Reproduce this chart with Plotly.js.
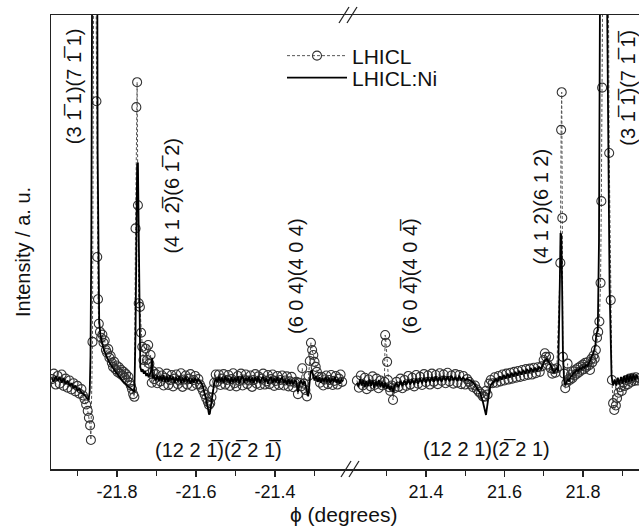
<!DOCTYPE html>
<html>
<head>
<meta charset="utf-8">
<script src="https://cdn.plot.ly/plotly-3.0.1.min.js"></script>
<style>html,body{margin:0;padding:0;background:#fff;}#chart{width:639px;height:528px;}</style>
</head>
<body>
<div id="chart"></div>
<script>
// ---------- DATA ----------
// LHICL (circles), left segment (negative phi)
var lhiclLeftX = [
-21.965,-21.960,-21.955,-21.950,-21.945,-21.940,-21.935,-21.930,-21.925,-21.920,
-21.915,-21.910,-21.905,-21.900,-21.895,-21.890,-21.886,-21.882,-21.878,-21.874,
-21.871,-21.868,-21.866,-21.862,-21.857,-21.852,-21.850,-21.848,-21.846,-21.843,
-21.840,-21.837,-21.834,-21.831,-21.828,-21.825,-21.822,-21.819,-21.816,-21.813,
-21.810,-21.807,-21.804,-21.801,-21.798,-21.795,-21.792,-21.789,-21.786,-21.783,
-21.780,-21.777,-21.774,-21.771,-21.768,-21.765,-21.762,-21.759,-21.756,-21.753,
-21.751,-21.749,-21.747,-21.745,-21.742,-21.739,-21.736,-21.733,-21.730,-21.727,
-21.724,-21.721,-21.718,-21.715,-21.712,-21.709,-21.706,-21.702,-21.698,-21.694,
-21.690,-21.686,-21.682,-21.678,-21.674,-21.670,-21.666,-21.662,-21.658,-21.654,
-21.650,-21.646,-21.642,-21.638,-21.634,-21.630,-21.626,-21.622,-21.618,-21.614,
-21.610,-21.606,-21.602,-21.598,-21.594,-21.590,-21.586,-21.582,-21.578,-21.574,
-21.570,-21.567,-21.564,-21.561,-21.558,-21.554,-21.550,-21.546,-21.542,-21.538,
-21.534,-21.530,-21.526,-21.522,-21.518,-21.514,-21.510,-21.506,-21.502,-21.498,
-21.494,-21.490,-21.486,-21.482,-21.478,-21.474,-21.470,-21.466,-21.462,-21.458,
-21.454,-21.450,-21.446,-21.442,-21.438,-21.434,-21.430,-21.426,-21.422,-21.418,
-21.414,-21.410,-21.406,-21.402,-21.398,-21.394,-21.390,-21.386,-21.382,-21.378,
-21.374,-21.370,-21.366,-21.362,-21.358,-21.354,-21.350,-21.346,-21.342,-21.338,
-21.334,-21.331,-21.327,-21.323,-21.319,-21.315,-21.312,-21.309,-21.306,-21.303,
-21.300,-21.297,-21.294,-21.290,-21.286,-21.282,-21.278,-21.274,-21.270,-21.266,
-21.262,-21.258,-21.254,-21.250,-21.246,-21.242,-21.238,-21.234,-21.230];
var lhiclLeftY = [
19.8,21.0,18.6,20.5,18.8,20.8,18.3,19.9,17.9,19.5,
17.5,18.9,17.1,18.3,16.6,17.6,16.2,15.4,14.2,12.8,
11.3,9.6,6.4,28.0,160,81.0,46.7,37.4,32.0,30.2,
28.9,29.6,27.8,28.3,26.2,25.6,26.4,24.5,24.9,23.4,
22.5,23.6,22.0,22.8,21.3,22.4,21.0,21.8,20.6,21.4,
20.1,20.9,19.5,20.3,19.0,18.4,17.6,16.5,15.9,53.0,
79.7,85.2,58.1,36.5,35.7,30.0,26.9,24.0,22.5,26.5,
24.0,27.3,23.2,25.1,19.0,21.5,19.8,20.9,18.9,21.3,
19.3,20.6,18.4,20.1,21.0,18.5,19.6,20.7,18.2,19.9,
20.8,18.7,19.5,21.1,18.1,19.7,20.6,18.6,19.9,20.9,
18.3,19.6,20.5,18.7,19.8,18.6,17.9,17.2,16.4,15.6,
14.8,14.1,14.5,15.8,17.5,19.0,20.8,19.2,20.8,18.5,
19.9,20.9,18.6,19.6,20.7,18.3,19.8,21.1,18.9,18.2,
20.5,19.4,21.0,18.4,19.7,20.8,18.7,19.5,20.6,18.1,
19.6,20.9,18.8,20.4,18.5,19.9,21.0,18.6,19.3,20.7,
18.7,19.8,20.8,18.3,19.4,20.5,18.5,19.6,20.6,18.4,
19.5,20.4,18.2,19.3,20.3,18.0,19.0,19.2,16.5,19.0,
18.2,22.2,18.8,17.4,16.0,20.5,23.8,27.8,26.2,25.1,
23.6,22.5,21.4,20.3,19.0,20.3,18.4,19.7,20.6,18.7,
19.6,20.7,18.5,19.4,20.5,18.6,19.9,20.8,19.2];

// LHICL:Ni (solid line), left segment
var niLeftX = [
-21.965,-21.960,-21.955,-21.950,-21.945,-21.940,-21.935,-21.930,-21.925,-21.920,
-21.915,-21.910,-21.905,-21.900,-21.895,-21.890,-21.885,-21.880,-21.876,-21.872,
-21.869,-21.867,-21.865,-21.863,-21.861,-21.856,-21.851,-21.849,-21.847,-21.845,
-21.842,-21.838,-21.834,-21.830,-21.825,-21.820,-21.815,-21.810,-21.805,-21.800,
-21.795,-21.790,-21.785,-21.780,-21.775,-21.770,-21.765,-21.760,-21.756,-21.753,
-21.751,-21.749,-21.747,-21.745,-21.743,-21.741,-21.738,-21.735,-21.732,-21.729,
-21.726,-21.723,-21.720,-21.717,-21.714,-21.711,-21.709,-21.706,-21.702,-21.698,
-21.694,-21.690,-21.686,-21.682,-21.678,-21.674,-21.670,-21.666,-21.662,-21.658,
-21.654,-21.650,-21.646,-21.642,-21.638,-21.634,-21.630,-21.626,-21.622,-21.618,
-21.614,-21.610,-21.606,-21.602,-21.598,-21.594,-21.590,-21.586,-21.582,-21.578,
-21.574,-21.570,-21.567,-21.565,-21.563,-21.560,-21.557,-21.554,-21.550,-21.546,
-21.542,-21.538,-21.534,-21.530,-21.526,-21.522,-21.518,-21.514,-21.510,-21.506,
-21.502,-21.498,-21.494,-21.490,-21.486,-21.482,-21.478,-21.474,-21.470,-21.466,
-21.462,-21.458,-21.454,-21.450,-21.446,-21.442,-21.438,-21.434,-21.430,-21.426,
-21.422,-21.418,-21.414,-21.410,-21.406,-21.402,-21.398,-21.394,-21.390,-21.386,
-21.382,-21.378,-21.374,-21.370,-21.366,-21.362,-21.358,-21.354,-21.350,-21.346,
-21.342,-21.338,-21.334,-21.330,-21.325,-21.320,-21.316,-21.313,-21.310,-21.307,
-21.304,-21.300,-21.296,-21.292,-21.288,-21.284,-21.280,-21.276,-21.272,-21.268,
-21.264,-21.260,-21.256,-21.252,-21.248,-21.244,-21.240,-21.236,-21.232,-21.228];
var niLeftY = [
20.0,19.2,20.5,19.4,20.3,19.0,20.0,18.7,19.5,18.3,
18.9,17.8,18.4,17.3,17.7,16.8,16.6,16.0,15.6,15.2,
17.0,25,50,90,160,200,160,70,40,32.6,
29.5,27.7,26.5,25.6,24.4,23.6,22.9,22.1,21.6,21.0,
20.3,19.9,19.3,18.9,18.5,18.0,17.6,17.2,17.0,30,
55,67,67.5,50,30,22.5,21.4,22.0,21.0,21.6,
20.5,21.1,20.2,20.8,21.5,24.5,20.0,20.6,19.5,20.6,
19.3,20.5,19.4,20.7,19.2,20.4,19.1,20.6,19.5,20.3,
19.0,20.2,19.3,20.5,18.9,20.1,19.2,20.4,19.1,20.0,
18.8,19.9,19.0,20.1,19.1,19.8,19.4,18.9,18.0,16.8,
15.2,13.5,12.0,12.2,13.4,15.5,17.4,18.8,19.9,19.1,
20.3,19.2,20.1,19.0,20.4,19.3,20.0,18.9,20.2,19.1,
20.1,19.2,20.4,18.8,19.9,20.5,19.0,20.0,19.3,20.3,
19.1,20.1,18.9,20.2,19.2,20.4,19.0,19.9,20.3,19.1,
20.0,18.8,19.8,20.3,19.0,19.9,19.2,20.2,18.9,19.8,
20.1,19.0,19.7,18.6,19.8,18.8,19.6,18.7,19.5,19.3,
16.9,18.8,19.5,18.6,19.4,17.6,16.0,18.5,21.3,21.8,
20.6,19.5,20.5,19.2,20.2,19.0,20.0,19.3,20.3,19.1,
20.1,18.9,19.9,19.2,20.2,19.0,19.8,18.8,19.7,19.3];

// LHICL (circles), right segment (positive phi)
var lhiclRightX = [
21.224,21.229,21.234,21.239,21.244,21.249,21.254,21.259,21.264,21.269,
21.274,21.279,21.284,21.289,21.294,21.296,21.298,21.301,21.303,21.306,
21.309,21.313,21.316,21.320,21.325,21.330,21.335,21.340,21.345,21.350,
21.355,21.360,21.365,21.370,21.375,21.380,21.385,21.390,21.395,21.400,
21.405,21.410,21.415,21.420,21.425,21.430,21.435,21.440,21.445,21.450,
21.455,21.460,21.465,21.470,21.475,21.480,21.485,21.490,21.495,21.500,
21.505,21.510,21.515,21.520,21.525,21.530,21.535,21.540,21.545,21.549,
21.553,21.557,21.561,21.565,21.570,21.575,21.580,21.585,21.590,21.595,
21.600,21.605,21.610,21.615,21.620,21.625,21.630,21.635,21.640,21.645,
21.650,21.655,21.660,21.665,21.670,21.675,21.680,21.685,21.690,21.695,
21.700,21.703,21.706,21.710,21.714,21.718,21.722,21.726,21.730,21.7335,
21.7425,21.7445,21.746,21.7475,21.749,21.752,21.755,21.758,21.761,21.764,
21.767,21.770,21.773,21.776,21.779,21.782,21.785,21.788,21.791,21.794,
21.797,21.800,21.803,21.806,21.809,21.812,21.815,21.818,21.821,21.824,
21.827,21.830,21.833,21.836,21.839,21.842,21.845,21.847,21.849,21.853,
21.857,21.862,21.867,21.871,21.874,21.877,21.880,21.884,21.887,21.891,
21.895,21.899,21.903,21.907,21.911,21.915,21.919,21.923,21.927,21.931,
21.935,21.939,21.943];
var lhiclRightY = [
19.5,17.9,20.6,18.4,20.1,17.6,19.7,18.2,20.4,18.5,
19.9,17.8,19.5,18.4,19.2,29.5,27.8,23.6,19.6,18.0,
17.2,18.4,15.2,17.8,19.2,18.1,19.9,17.8,19.6,18.3,
20.5,18.6,20.1,18.2,20.7,18.8,20.3,18.5,20.9,19.1,
20.6,18.6,21.0,19.2,20.7,18.7,21.1,19.4,20.8,18.9,
21.2,19.3,20.6,18.8,20.9,19.0,20.7,18.7,20.5,18.6,
19.8,19.2,18.6,18.0,18.4,17.5,17.0,16.6,16.0,15.9,
17.2,16.4,18.8,19.6,18.9,20.2,19.0,20.5,19.3,20.8,
19.5,21.0,19.7,21.2,19.9,21.4,20.1,21.6,20.3,21.8,
20.5,22.0,20.7,22.1,20.8,22.3,21.1,22.4,21.4,22.6,
24.0,25.5,24.7,23.0,24.7,22.2,21.0,22.0,21.2,22.2,
45.4,74.7,83.0,55.3,24.7,21.0,17.8,19.0,23.2,19.8,
19.6,20.8,20.0,21.5,20.6,21.9,21.0,22.3,21.4,22.6,
21.8,23.0,22.0,23.4,22.5,23.5,22.8,21.8,24.2,23.5,
25.0,24.3,26.2,28.9,30.2,32.5,41.0,59.0,84.0,160,
200,160,69.6,37.2,19.6,14.5,13.0,14.0,15.6,16.8,
18.0,17.2,19.0,18.3,19.6,18.7,19.9,19.2,20.1,19.4,
20.2,19.5,20.0];

// LHICL:Ni (solid line), right segment
var niRightX = [
21.224,21.228,21.232,21.236,21.240,21.244,21.248,21.252,21.256,21.260,
21.264,21.268,21.272,21.276,21.280,21.284,21.288,21.292,21.296,21.300,
21.304,21.308,21.312,21.316,21.320,21.325,21.330,21.335,21.340,21.345,
21.350,21.355,21.360,21.365,21.370,21.375,21.380,21.385,21.390,21.395,
21.400,21.405,21.410,21.415,21.420,21.425,21.430,21.435,21.440,21.445,
21.450,21.455,21.460,21.465,21.470,21.475,21.480,21.485,21.490,21.495,
21.500,21.505,21.510,21.515,21.520,21.525,21.531,21.538,21.545,21.550,
21.553,21.556,21.558,21.562,21.566,21.570,21.573,21.578,21.583,21.588,
21.593,21.598,21.603,21.608,21.613,21.618,21.623,21.628,21.633,21.638,
21.643,21.648,21.653,21.658,21.663,21.668,21.673,21.678,21.683,21.688,
21.693,21.698,21.703,21.708,21.713,21.718,21.722,21.726,21.730,21.734,
21.737,21.739,21.741,21.743,21.745,21.747,21.749,21.752,21.755,21.758,
21.761,21.765,21.768,21.772,21.776,21.780,21.784,21.788,21.792,21.796,
21.800,21.804,21.808,21.812,21.815,21.818,21.821,21.824,21.827,21.829,
21.832,21.834,21.836,21.838,21.841,21.843,21.845,21.849,21.852,21.858,
21.863,21.868,21.873,21.877,21.881,21.885,21.889,21.893,21.897,21.901,
21.905,21.909,21.913,21.917,21.921,21.925,21.929,21.933,21.937,21.941];
var niRightY = [
19.0,18.1,19.8,18.4,19.6,18.0,19.4,18.2,19.7,18.3,
19.5,17.9,19.3,18.2,19.6,18.0,19.2,17.8,19.0,17.7,
18.6,17.4,18.2,17.0,18.3,18.9,18.0,19.4,18.3,19.5,
18.5,19.7,18.6,19.8,18.7,19.9,18.8,20.0,18.9,20.1,
19.0,20.2,19.1,20.3,19.2,20.4,19.3,20.2,19.2,20.5,
19.4,20.4,19.3,20.6,19.5,20.3,19.4,20.5,19.6,20.2,
19.5,19.9,19.6,19.4,19.0,18.5,17.6,16.8,14.8,12.5,
11.9,13.8,15.2,17.5,18.6,19.0,19.2,19.8,19.3,20.4,
19.7,20.7,19.9,21.0,20.1,21.2,20.4,21.4,20.6,21.6,
20.8,21.8,21.0,22.0,21.2,22.2,21.4,22.3,21.5,22.5,
22.0,22.9,24.0,24.3,23.6,22.8,22.0,21.2,21.8,22.2,
21.5,28,40,52.0,51.5,40,26,19.5,18.4,19.0,
19.8,19.3,20.3,20.5,21.1,21.3,21.8,21.6,22.2,22.0,
22.5,22.3,22.9,22.7,23.3,23.8,24.2,25.0,25.6,26.3,
27.5,29.5,30.0,30.8,50,80,160,220,200,140,
80,40,20.5,18.4,19.7,18.4,20.1,18.6,20.3,18.8,
20.5,19.0,20.7,19.2,20.8,19.4,20.9,19.6,20.7,19.9];

// Tick values / labels
var leftTickVals = [-21.8, -21.6, -21.4];
var leftTickText = ["-21.8", "-21.6", "-21.4"];
var leftMinorVals = [-21.9, -21.7, -21.5, -21.3];
var rightTickVals = [21.4, 21.6, 21.8];
var rightTickText = ["21.4", "21.6", "21.8"];
var rightMinorVals = [21.3, 21.5, 21.7, 21.9];

// Reflection labels
var OL = "\u0305";
var peakLabels = [
  {text: "(3 1" + OL + " 1)(7 1" + OL + " 1)", axis: "x", x: -21.909, y: 84.3, angle: -90},
  {text: "(4 1 2" + OL + ")(6 1" + OL + " 2)", axis: "x", x: -21.661, y: 60.2, angle: -90},
  {text: "(6 0 4)(4 0 4)", axis: "x", x: -21.347, y: 42.5, angle: -90},
  {text: "(12 2 1" + OL + ")(2" + OL + " 2 1" + OL + ")", axis: "x", x: -21.544, y: 4.2, angle: 0},
  {text: "(6 0 4" + OL + ")(4 0 4" + OL + ")", axis: "x2", x: 21.359, y: 42.5, angle: -90},
  {text: "(4 1 2)(6 1 2)", axis: "x2", x: 21.693, y: 57.8, angle: -90},
  {text: "(3 1" + OL + " 1" + OL + ")(7 1" + OL + " 1" + OL + ")", axis: "x2", x: 21.915, y: 84.0, angle: -90},
  {text: "(12 2 1)(2" + OL + " 2 1)", axis: "x2", x: 21.555, y: 4.4, angle: 0}
];

// ---------- STYLE / LAYOUT ----------
var FONT = "'Liberation Sans', Arial, Helvetica, sans-serif";
var CIRC_COLOR = "#333333";
var DASH_COLOR = "#555555";

var circleStyle = {
  mode: "lines+markers",
  line: {color: DASH_COLOR, width: 1, dash: "3px,2px"},
  marker: {symbol: "circle-open", size: 9, color: CIRC_COLOR, line: {width: 1.1, color: CIRC_COLOR}}
};
var niStyle = {mode: "lines", line: {color: "#000000", width: 1.8}};

var traces = [
  Object.assign({type: "scatter", name: "LHICL", x: lhiclLeftX, y: lhiclLeftY, xaxis: "x", yaxis: "y", legend: "legend"}, circleStyle),
  Object.assign({type: "scatter", name: "LHICL", x: lhiclRightX, y: lhiclRightY, xaxis: "x2", yaxis: "y", showlegend: false}, circleStyle),
  Object.assign({type: "scatter", name: "LHICL:Ni", x: niLeftX, y: niLeftY, xaxis: "x", yaxis: "y", legend: "legend2"}, niStyle),
  Object.assign({type: "scatter", name: "LHICL:Ni", x: niRightX, y: niRightY, xaxis: "x2", yaxis: "y", showlegend: false}, niStyle)
];

// pixel helpers for decorations only
var PL = 51, PW = 588, PT = 15, PH = 454;
function px(xp) { return (xp - PL) / PW; }
function py(yp) { return (PT + PH - yp) / PH; }
var SPLIT = px(349);

var annotations = peakLabels.map(function (p) {
  return {text: p.text, xref: p.axis, yref: "y", x: p.x, y: p.y, textangle: p.angle,
          showarrow: false, xanchor: "center", yanchor: "middle",
          font: {family: FONT, size: 20, color: "#111"}};
});
annotations.push({text: "\u03d5 (degrees)", xref: "paper", yref: "paper", x: px(343), y: py(514),
  showarrow: false, xanchor: "center", yanchor: "middle", font: {family: FONT, size: 21, color: "#111"}});
annotations.push({text: "Intensity / a. u.", xref: "paper", yref: "paper", x: px(23), y: py(252), textangle: -90,
  showarrow: false, xanchor: "center", yanchor: "middle", font: {family: FONT, size: 20, color: "#111"}});

function slash(cx, cy) {
  return {type: "line", xref: "paper", yref: "paper", x0: px(cx - 5), y0: py(cy + 8), x1: px(cx + 5), y1: py(cy - 8),
          line: {color: "#222", width: 1.3}, layer: "above"};
}
var shapes = [slash(344, 15), slash(352, 15), slash(346, 469), slash(354, 469)];

var xCommon = {
  ticks: "outside", ticklen: 6, tickwidth: 1.2, tickcolor: "#222",
  showline: true, mirror: true, linewidth: 1.5, linecolor: "#222",
  showgrid: false, zeroline: false, anchor: "y",
  tickfont: {family: FONT, size: 18, color: "#111"}
};

var layout = {
  width: 639, height: 528,
  margin: {l: PL, r: 0, t: PT, b: 528 - PT - PH, pad: 0},
  paper_bgcolor: "#ffffff", plot_bgcolor: "#ffffff",
  font: {family: FONT, size: 18, color: "#111"},
  xaxis: Object.assign({}, xCommon, {domain: [0, SPLIT], range: [-21.967, -21.2127],
    tickmode: "array", tickvals: leftTickVals, ticktext: leftTickText,
    minor: {tickmode: "array", tickvals: leftMinorVals, ticks: "outside", ticklen: 5, tickwidth: 1.2, tickcolor: "#222"}}),
  xaxis2: Object.assign({}, xCommon, {domain: [SPLIT, 1], range: [21.2038, 21.943],
    tickmode: "array", tickvals: rightTickVals, ticktext: rightTickText,
    minor: {tickmode: "array", tickvals: rightMinorVals, ticks: "outside", ticklen: 5, tickwidth: 1.2, tickcolor: "#222"}}),
  yaxis: {range: [0, 100], showticklabels: false, ticks: "", showline: true, linewidth: 1.5, linecolor: "#222",
    showgrid: false, zeroline: false, mirror: false},
  showlegend: true,
  legend: {x: px(282), y: py(56), xanchor: "left", yanchor: "middle", bgcolor: "rgba(0,0,0,0)",
    font: {family: FONT, size: 21, color: "#111"}, itemwidth: 60},
  legend2: {x: px(282), y: py(78), xanchor: "left", yanchor: "middle", bgcolor: "rgba(0,0,0,0)",
    font: {family: FONT, size: 21, color: "#111"}, itemwidth: 60},
  annotations: annotations,
  shapes: shapes
};

Plotly.newPlot("chart", traces, layout, {displayModeBar: false, staticPlot: true});
</script>
</body>
</html>
